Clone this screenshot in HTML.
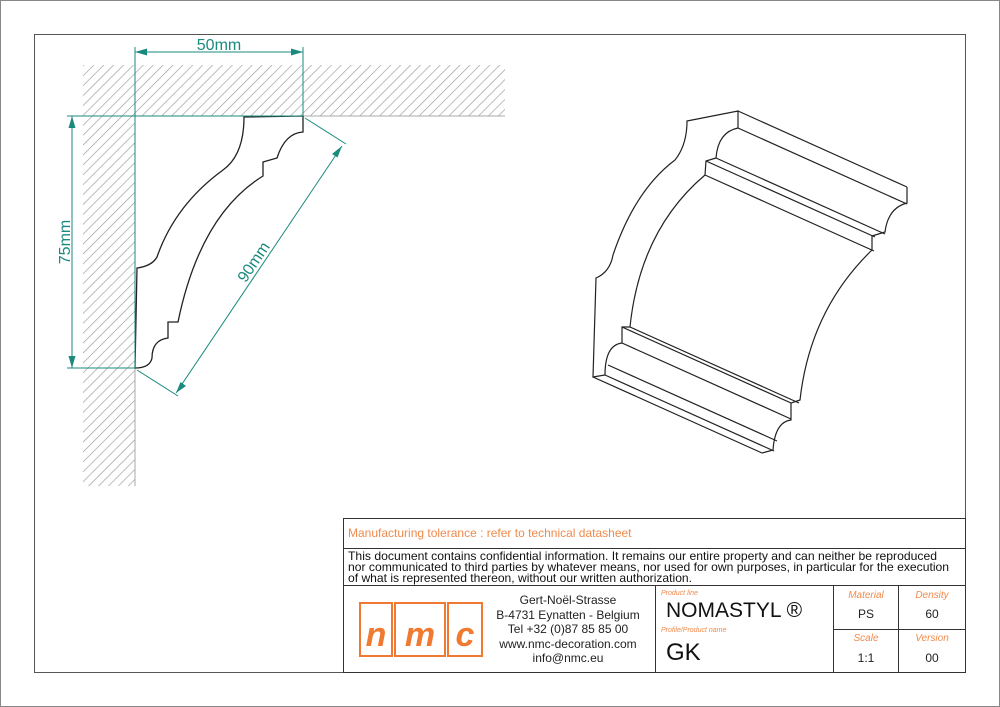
<!DOCTYPE html>
<html><head><meta charset="utf-8"><style>
html,body{margin:0;padding:0;background:#fff;}
svg{display:block;font-family:"Liberation Sans",sans-serif;}
</style></head><body>
<svg width="1000" height="707" viewBox="0 0 1000 707" xmlns="http://www.w3.org/2000/svg">
<defs>
<pattern id="h" patternUnits="userSpaceOnUse" width="7" height="7" patternTransform="rotate(45)">
<line x1="0" y1="0" x2="0" y2="7" stroke="#999" stroke-width="1.3"/>
</pattern>
</defs>
<rect x="0.5" y="0.5" width="999" height="706" fill="#fff" stroke="#888"/>
<rect x="34.5" y="34.5" width="931" height="638" fill="none" stroke="#555"/>
<rect x="83" y="65" width="422" height="51" fill="url(#h)"/>
<rect x="83" y="116" width="52" height="370" fill="url(#h)"/>
<line x1="135" y1="116" x2="505" y2="116" stroke="#aaa"/>
<line x1="135" y1="116" x2="135" y2="486" stroke="#aaa"/>
<path d="M244,117 L303,116 L303,132 Q285,133 277,158 L263,162 L263,176 Q200,215 178,322 L168,322 L168,338 Q152,340 152,358 Q150,368 135,368 L137,268 Q152,266 157,257 Q175,205 223,170 Q244,155 244,117 Z" fill="#fff" stroke="#222" stroke-width="1.3"/>
<g stroke="#1a8a7e" stroke-width="1" fill="none">
<line x1="135" y1="47" x2="135" y2="368"/>
<line x1="303" y1="47" x2="303" y2="116"/>
<line x1="135" y1="52" x2="303" y2="52"/>
<line x1="67" y1="116" x2="303" y2="116"/>
<line x1="67" y1="368" x2="135" y2="368"/>
<line x1="72" y1="116" x2="72" y2="368"/>
<line x1="305" y1="118" x2="346" y2="144"/>
<line x1="137" y1="370" x2="178" y2="396"/>
<line x1="342" y1="146" x2="176" y2="393"/>
</g>
<g fill="#1a8a7e">
<polygon points="135,52 147,48.5 147,55.5"/>
<polygon points="303,52 291,48.5 291,55.5"/>
<polygon points="72,116 68.5,128 75.5,128"/>
<polygon points="72,368 68.5,356 75.5,356"/>
<polygon points="342,146 332,154 337.5,157.5"/>
<polygon points="176,393 180.5,382 186,386"/>
<text x="219" y="50" font-size="16" text-anchor="middle">50mm</text>
<text x="0" y="0" font-size="16" text-anchor="middle" transform="translate(70,242) rotate(-90)">75mm</text>
<text x="0" y="0" font-size="16" text-anchor="middle" transform="translate(258,265) rotate(-56)">90mm</text>
</g>
<g fill="none" stroke="#222" stroke-width="1.2">
<path d="M687,121 L738,111 L738,128 Q718,132 716,158 L706,161 L705,175 Q640,230 630,327 L622,327 L622,343 Q605,345 605,375 L593,377 L596,278 Q610,272 613,255 Q635,190 675,160 Q687,145 687,121 Z"/>
<path d="M907,187 L907,203 Q888,208 885,232 L872,236 L872,250 Q810,310 800,400 L791,403 L791,420 Q775,422 773,450 L762,453"/>
<line x1="738" y1="111" x2="907" y2="187"/>
<line x1="738" y1="128" x2="907" y2="204"/>
<line x1="716" y1="158" x2="885" y2="234"/>
<line x1="706" y1="161" x2="875" y2="237"/>
<line x1="705" y1="175" x2="874" y2="251"/>
<line x1="630" y1="327" x2="799" y2="403"/>
<line x1="622" y1="327" x2="791" y2="403"/>
<line x1="622" y1="343" x2="791" y2="419"/>
<line x1="608" y1="365" x2="777" y2="441"/>
<line x1="605" y1="375" x2="774" y2="451"/>
<line x1="593" y1="377" x2="762" y2="453"/>
</g>
<g stroke="#333" stroke-width="1" fill="none">
<rect x="343.5" y="518.5" width="622" height="154"/>
<line x1="343" y1="548.5" x2="966" y2="548.5"/>
<line x1="343" y1="585.5" x2="966" y2="585.5"/>
<line x1="655.5" y1="585" x2="655.5" y2="673"/>
<line x1="833.5" y1="585" x2="833.5" y2="673"/>
<line x1="898.5" y1="585" x2="898.5" y2="673"/>
<line x1="833" y1="629.5" x2="966" y2="629.5"/>
</g>
<text x="348" y="537" font-size="12" fill="#f08a4b">Manufacturing tolerance : refer to technical datasheet</text>
<g font-size="12" fill="#111">
<text x="348" y="560" textLength="589" lengthAdjust="spacingAndGlyphs">This document contains confidential information. It remains our entire property and can neither be reproduced</text>
<text x="348" y="571" textLength="601" lengthAdjust="spacingAndGlyphs">nor communicated to third parties by whatever means, nor used for own purposes, in particular for the execution</text>
<text x="348" y="582" textLength="344" lengthAdjust="spacingAndGlyphs">of what is represented thereon, without our written authorization.</text>
</g>
<g stroke="#f07a32" stroke-width="2" fill="none">
<rect x="360" y="603" width="32" height="53"/>
<rect x="395" y="603" width="50" height="53"/>
<rect x="448" y="603" width="34" height="53"/>
</g>
<g fill="#f07a32" font-size="34" font-weight="bold" font-style="italic" text-anchor="middle">
<text x="376" y="646">n</text><text x="420" y="646">m</text><text x="465" y="646">c</text>
</g>
<g font-size="12" fill="#222" text-anchor="middle">
<text x="568" y="604">Gert-Noël-Strasse</text>
<text x="568" y="619">B-4731 Eynatten - Belgium</text>
<text x="568" y="633">Tel +32 (0)87 85 85 00</text>
<text x="568" y="648">www.nmc-decoration.com</text>
<text x="568" y="662">info@nmc.eu</text>
</g>
<g font-size="7" fill="#f08a4b" font-style="italic">
<text x="661" y="595">Product line</text>
<text x="661" y="632">Profile/Product name</text>
</g>
<text x="666" y="617" font-size="21" fill="#111">NOMASTYL ®</text>
<text x="666" y="660" font-size="24" fill="#111">GK</text>
<g font-size="10" fill="#f08a4b" font-style="italic" text-anchor="middle">
<text x="866" y="598">Material</text><text x="932" y="598">Density</text>
<text x="866" y="641">Scale</text><text x="932" y="641">Version</text>
</g>
<g font-size="12" fill="#222" text-anchor="middle">
<text x="866" y="618">PS</text><text x="932" y="618">60</text>
<text x="866" y="662">1:1</text><text x="932" y="662">00</text>
</g>
</svg>
</body></html>
